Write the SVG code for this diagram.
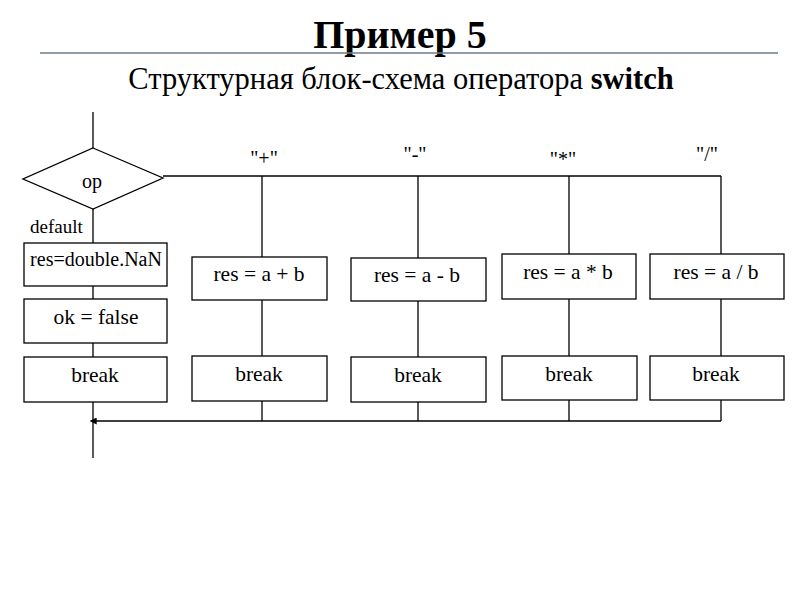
<svg xmlns="http://www.w3.org/2000/svg" width="800" height="600" viewBox="0 0 800 600">
<defs>
<style>
text{font-family:"Liberation Serif","Times New Roman",serif;fill:#000}
.t{font-size:20px;text-anchor:middle}
.r{font-size:21.5px}
.box{fill:#fff;stroke:#000;stroke-width:1.3}
.ln{fill:none;stroke:#000;stroke-width:1.3}
</style>
<marker id="ah" viewBox="0 0 10 10" refX="1" refY="5" markerWidth="7" markerHeight="7" orient="auto-start-reverse" markerUnits="userSpaceOnUse">
<path d="M0,0 L10,5 L0,10 z" fill="#000"/>
</marker>
</defs>
<rect width="800" height="600" fill="#fff"/>
<g id="title">
<text x="400" y="48" font-size="40" font-weight="bold" text-anchor="middle">Пример 5</text>
<line x1="40" y1="53" x2="778" y2="53" stroke="#6d7c8a" stroke-width="1.3"/>
<text x="401" y="89" font-size="30.5" text-anchor="middle">Структурная блок-схема оператора <tspan font-weight="bold">switch</tspan></text>
</g>
<g id="connectors">
<path class="ln" d="M93,112 V148"/>
<path class="ln" d="M93,208 V243 M93,286 V299 M93,343 V357 M93,402 V458"/>
<path class="ln" d="M163,176 H721"/>
<path class="ln" d="M262,176 V257 M262,300 V356 M262,401 V421"/>
<path class="ln" d="M418,176 V258 M418,301 V357 M418,402 V421"/>
<path class="ln" d="M569,176 V254 M569,299 V356 M569,400 V421"/>
<path class="ln" d="M721,176 V254 M721,299 V356 M721,400 V421"/>
<path class="ln" d="M721,421 H96" marker-end="url(#ah)"/>
</g>
<g id="decision">
<polygon class="box" points="93,148 163,178 93,209 23,179"/>
<text class="t" x="92" y="188">op</text>
</g>
<g id="labels">
<text x="30" y="233" font-size="19">default</text>
<text class="t" x="264" y="165">"+"</text>
<text class="t" x="415" y="161">"-"</text>
<text class="t" x="563" y="166">"*"</text>
<text class="t" x="707" y="161">"/"</text>
</g>
<g id="default-res"><rect class="box" x="24" y="243" width="143" height="43"/><text class="t" x="96" y="266">res=double.NaN</text></g>
<g id="default-ok"><rect class="box" x="24" y="299" width="143" height="44"/><text class="t r" x="96" y="324">ok = false</text></g>
<g id="default-break"><rect class="box" x="24" y="357" width="143" height="45"/><text class="t r" x="95" y="382">break</text></g>
<g id="plus-res"><rect class="box" x="192" y="257" width="135" height="43"/><text class="t r" x="259" y="281">res = a + b</text></g>
<g id="plus-break"><rect class="box" x="192" y="356" width="135" height="45"/><text class="t r" x="259" y="381">break</text></g>
<g id="minus-res"><rect class="box" x="351" y="258" width="135" height="43"/><text class="t r" x="417" y="282">res = a - b</text></g>
<g id="minus-break"><rect class="box" x="351" y="357" width="135" height="45"/><text class="t r" x="418" y="382">break</text></g>
<g id="mul-res"><rect class="box" x="502" y="254" width="134" height="45"/><text class="t r" x="568" y="279">res = a * b</text></g>
<g id="mul-break"><rect class="box" x="502" y="356" width="135" height="44"/><text class="t r" x="569" y="381">break</text></g>
<g id="div-res"><rect class="box" x="650" y="254" width="134" height="45"/><text class="t r" x="716" y="279">res = a / b</text></g>
<g id="div-break"><rect class="box" x="650" y="356" width="134" height="44"/><text class="t r" x="716" y="381">break</text></g>
</svg>
